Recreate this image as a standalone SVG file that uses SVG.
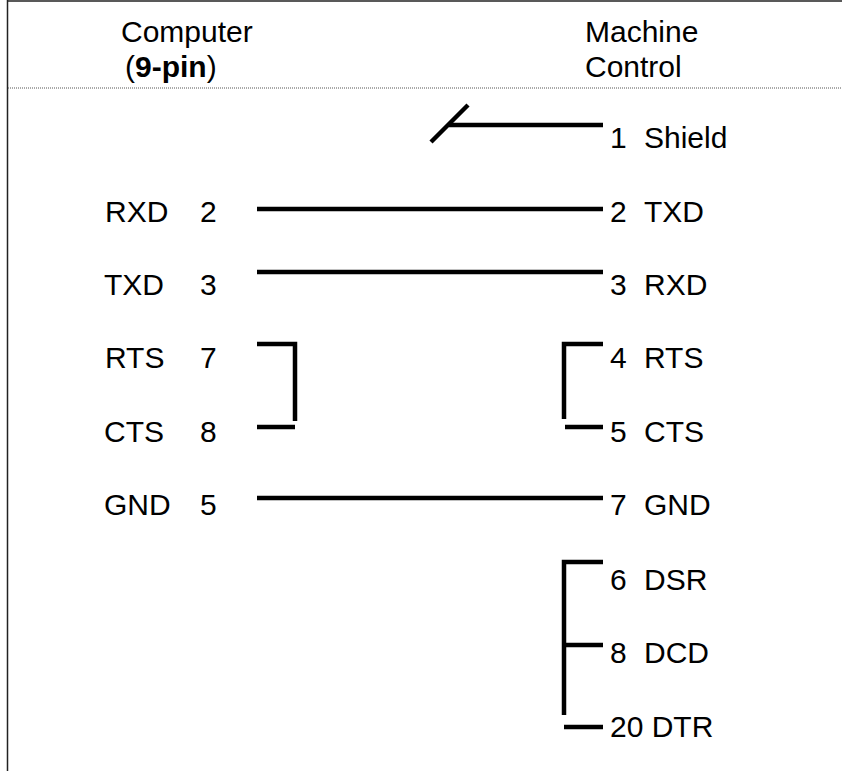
<svg xmlns="http://www.w3.org/2000/svg" width="842" height="771" viewBox="0 0 842 771">
<style>
text{font-family:"Liberation Sans",Arial,sans-serif;font-size:30px;fill:#000}
.b{font-weight:bold}
.w{stroke:#000;stroke-width:4.5;fill:none;stroke-linecap:butt}
.frame{stroke:#222;stroke-width:1.5;fill:none}
.dot{stroke:#555;stroke-width:1;stroke-dasharray:1 1;fill:none}
</style>
<rect width="842" height="771" fill="#fff"/>
<g id="frame">
<line class="frame" x1="7.5" y1="1" x2="842" y2="1"/>
<line class="frame" x1="7.5" y1="0" x2="7.5" y2="771"/>
<line class="dot" x1="8" y1="88" x2="842" y2="88"/>
</g>
<g id="header-computer">
<text x="121" y="42">Computer</text>
<text x="125" y="77">(<tspan class="b">9-pin</tspan>)</text>
</g>
<g id="header-machine">
<text x="585" y="42">Machine</text>
<text x="585" y="77">Control</text>
</g>
<g id="computer-pins">
<text x="105" y="222">RXD</text><text x="200" y="222">2</text>
<text x="104" y="295">TXD</text><text x="200" y="295">3</text>
<text x="105" y="368">RTS</text><text x="200" y="368">7</text>
<text x="104" y="442">CTS</text><text x="200" y="442">8</text>
<text x="104" y="515">GND</text><text x="200" y="515">5</text>
</g>
<g id="machine-pins">
<text x="610" y="148">1</text><text x="644" y="148">Shield</text>
<text x="610" y="222">2</text><text x="644" y="222">TXD</text>
<text x="610" y="295">3</text><text x="644" y="295">RXD</text>
<text x="610" y="368">4</text><text x="644" y="368">RTS</text>
<text x="610" y="442">5</text><text x="644" y="442">CTS</text>
<text x="610" y="515">7</text><text x="644" y="515">GND</text>
<text x="610" y="590">6</text><text x="644" y="590">DSR</text>
<text x="610" y="663">8</text><text x="644" y="663">DCD</text>
<text x="610" y="737">20 DTR</text>
</g>
<g id="connectors">
<line class="w" x1="449" y1="125" x2="603" y2="125"/>
<line class="w" x1="431" y1="142" x2="468" y2="105"/>
<line class="w" x1="257" y1="209" x2="603" y2="209"/>
<line class="w" x1="257" y1="272" x2="603" y2="272"/>
<polyline class="w" points="257,344 295,344 295,421"/>
<line class="w" x1="257" y1="427" x2="295" y2="427"/>
<polyline class="w" points="603,344 564,344 564,419"/>
<line class="w" x1="565" y1="427" x2="603" y2="427"/>
<line class="w" x1="257" y1="498" x2="603" y2="498"/>
<polyline class="w" points="603,562 564,562 564,715"/>
<line class="w" x1="564" y1="645" x2="603" y2="645"/>
<line class="w" x1="564" y1="727" x2="603" y2="727"/>
</g>
</svg>
